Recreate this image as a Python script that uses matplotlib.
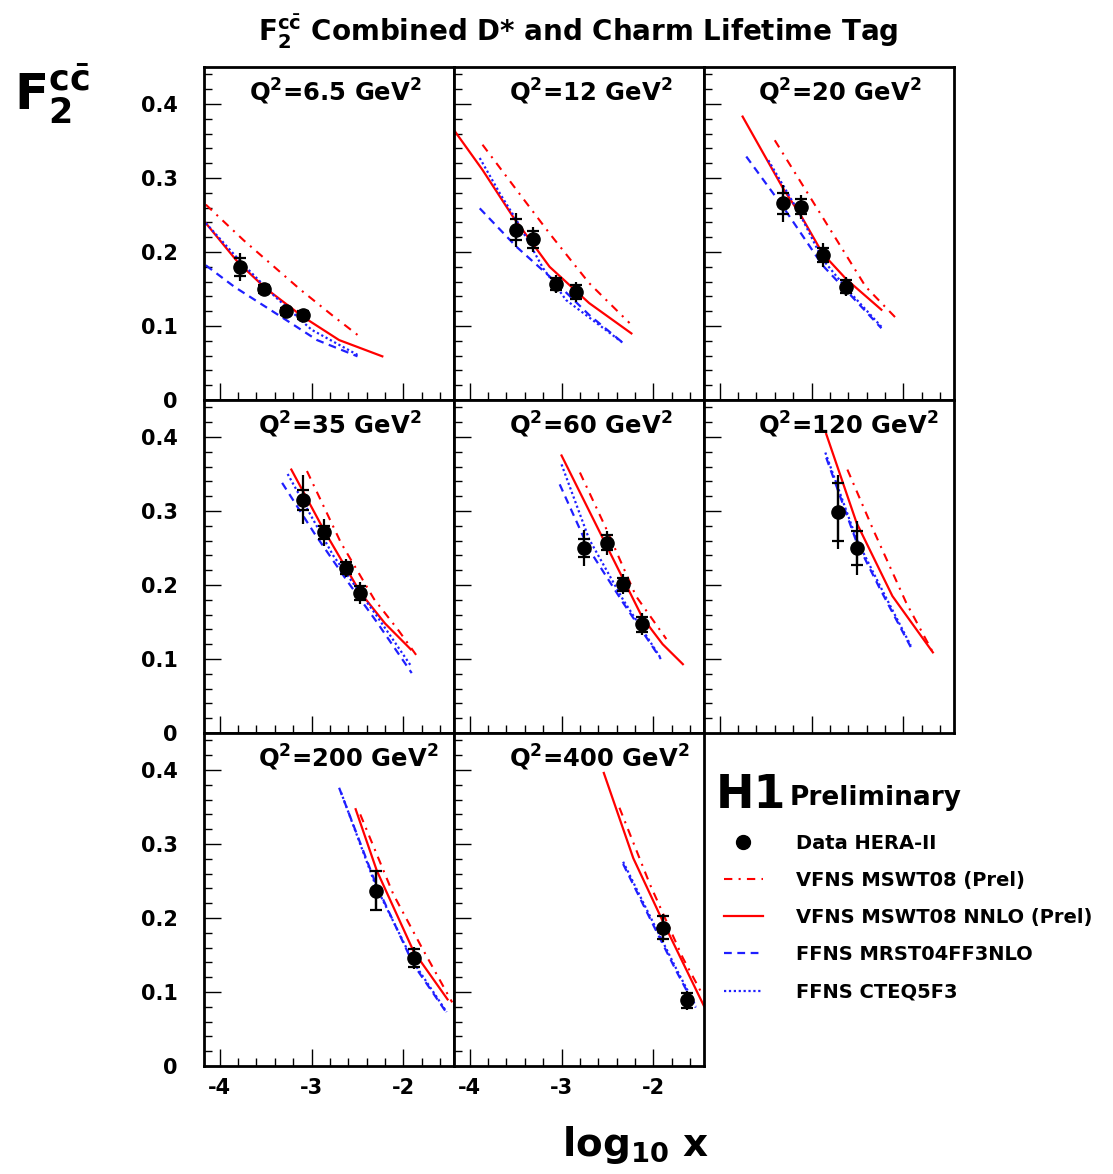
import matplotlib
matplotlib.use("Agg")
import matplotlib.pyplot as plt
from matplotlib.lines import Line2D

plt.rcParams['font.family'] = 'DejaVu Sans'
plt.rcParams['font.weight'] = 'bold'
plt.rcParams['mathtext.fontset'] = 'dejavusans'
plt.rcParams['mathtext.default'] = 'bf'

# Q^2 bins (GeV^2)
q2_bins = ['6.5', '12', '20', '35', '60', '120', '200', '400']

# H1 data: log10 x, F2cc, total error, stat error
data_x = [[-3.78, -3.52, -3.28, -3.09], [-3.50, -3.31, -3.06, -2.84],
          [-3.31, -3.11, -2.88, -2.62], [-3.09, -2.86, -2.62, -2.47],
          [-2.76, -2.51, -2.33, -2.12], [-2.71, -2.51],
          [-2.30, -1.89], [-1.90, -1.63]]
data_y = [[0.180, 0.150, 0.120, 0.115], [0.230, 0.217, 0.157, 0.146],
          [0.266, 0.261, 0.196, 0.153], [0.315, 0.271, 0.223, 0.189],
          [0.250, 0.257, 0.201, 0.147], [0.299, 0.250],
          [0.237, 0.146], [0.187, 0.089]]
data_tot = [[0.019, 0.008, 0.008, 0.007], [0.023, 0.017, 0.012, 0.0135],
            [0.025, 0.016, 0.016, 0.013], [0.033, 0.018, 0.012, 0.015],
            [0.024, 0.016, 0.0135, 0.015], [0.050, 0.037],
            [0.028, 0.015], [0.019, 0.013]]
data_stat = [[0.012, 0.005, 0.005, 0.005], [0.014, 0.011, 0.008, 0.009],
             [0.014, 0.010, 0.010, 0.009], [0.014, 0.009, 0.008, 0.009],
             [0.012, 0.010, 0.009, 0.010], [0.039, 0.023],
             [0.026, 0.012], [0.016, 0.010]]

# VFNS MSWT08 (Prel)
mswt_x = [[-4.15, -3.74, -3.12, -2.76, -2.50], [-3.86, -3.49, -3.13, -2.70, -2.26],
          [-3.40, -3.13, -2.77, -2.41, -2.06], [-3.05, -2.68, -2.32, -2.05, -1.83],
          [-2.80, -2.51, -2.19, -1.86], [-2.61, -2.33, -1.97, -1.68],
          [-2.47, -2.11, -1.80, -1.47], [-2.37, -2.04, -1.68, -1.46]]
mswt_y = [[0.264, 0.216, 0.149, 0.113, 0.088], [0.345, 0.284, 0.225, 0.158, 0.104],
          [0.351, 0.297, 0.225, 0.153, 0.108], [0.354, 0.257, 0.181, 0.138, 0.100],
          [0.352, 0.275, 0.185, 0.127], [0.356, 0.275, 0.176, 0.109],
          [0.340, 0.232, 0.160, 0.086], [0.349, 0.246, 0.146, 0.095]]

# VFNS MSWT08 NNLO (Prel)
nnlo_x = [[-4.15, -3.80, -3.50, -3.10, -2.70, -2.23], [-4.16, -3.86, -3.53, -3.13, -2.70, -2.24],
          [-3.75, -3.31, -3.11, -2.88, -2.62, -2.24], [-3.22, -2.86, -2.47, -2.20, -1.92],
          [-3.00, -2.51, -2.12, -1.90, -1.68], [-2.84, -2.51, -2.12, -1.68],
          [-2.52, -2.29, -1.89, -1.52], [-2.54, -2.22, -1.90, -1.45]]
nnlo_y = [[0.239, 0.186, 0.151, 0.113, 0.081, 0.059], [0.363, 0.311, 0.248, 0.180, 0.131, 0.090],
          [0.383, 0.286, 0.248, 0.198, 0.163, 0.122], [0.356, 0.273, 0.190, 0.148, 0.113],
          [0.375, 0.253, 0.156, 0.120, 0.093], [0.404, 0.284, 0.185, 0.109],
          [0.347, 0.264, 0.155, 0.090], [0.396, 0.281, 0.196, 0.081]]

# FFNS MRST04FF3NLO
mrst_x = [[-4.15, -3.84, -3.30, -2.94, -2.50], [-3.89, -3.49, -3.13, -2.70, -2.33],
          [-3.71, -3.31, -2.88, -2.60, -2.24], [-3.32, -2.97, -2.61, -2.29, -1.91],
          [-3.02, -2.70, -2.33, -1.92], [-2.84, -2.51, -2.26, -1.92],
          [-2.70, -2.30, -1.89, -1.52], [-2.33, -2.04, -1.75, -1.54]]
mrst_y = [[0.182, 0.153, 0.110, 0.081, 0.059], [0.259, 0.207, 0.167, 0.115, 0.077],
          [0.329, 0.261, 0.182, 0.145, 0.097], [0.338, 0.270, 0.205, 0.150, 0.081],
          [0.336, 0.248, 0.176, 0.100], [0.372, 0.258, 0.196, 0.116],
          [0.376, 0.246, 0.137, 0.070], [0.273, 0.200, 0.128, 0.079]]

# FFNS CTEQ5F3
cteq_x = [[-4.15, -3.75, -3.40, -3.00, -2.50], [-3.89, -3.67, -3.49, -3.20, -2.95, -2.33],
          [-3.47, -3.13, -2.88, -2.60, -2.24], [-3.26, -2.76, -2.30, -1.92],
          [-3.00, -2.70, -2.33, -1.92], [-2.85, -2.51, -2.26, -1.92],
          [-2.68, -2.30, -1.89, -1.53], [-2.33, -2.04, -1.75, -1.54]]
cteq_y = [[0.239, 0.184, 0.140, 0.095, 0.061], [0.327, 0.279, 0.243, 0.178, 0.135, 0.077],
          [0.324, 0.252, 0.190, 0.148, 0.099], [0.350, 0.239, 0.160, 0.091],
          [0.363, 0.262, 0.180, 0.101], [0.379, 0.262, 0.200, 0.118],
          [0.370, 0.243, 0.140, 0.073], [0.276, 0.203, 0.131, 0.081]]

W, H = 1113, 1174
red = '#ff0000'
blue = '#1f1fff'
mswt_ls = (0, (4, 3, 1, 3))
mrst_ls = (0, (3.5, 2.5))
cteq_ls = (0, (1, 1.2))

fig = plt.figure(figsize=(W / 100, H / 100), dpi=100)


def px_axes(x0, y0, w, h):  # pixel box -> figure fraction
    return [x0 / W, 1 - (y0 + h) / H, w / W, h / H]


col_left = [204, 454, 704]
row_top = [67, 400, 733]
title_x = [0.18, 0.22, 0.215, 0.215, 0.22, 0.215, 0.215, 0.22]

for i in range(8):
    r, c = divmod(i, 3)
    ax = fig.add_axes(px_axes(col_left[c], row_top[r], 250, 333))
    ax.set_xlim(-4.17, -1.45)
    ax.set_ylim(0, 0.45)

    ax.plot(mswt_x[i], mswt_y[i], color=red, lw=1.5, ls=mswt_ls)
    ax.plot(nnlo_x[i], nnlo_y[i], color=red, lw=1.6, ls='-')
    ax.plot(mrst_x[i], mrst_y[i], color=blue, lw=1.6, ls=mrst_ls)
    ax.plot(cteq_x[i], cteq_y[i], color=blue, lw=1.6, ls=cteq_ls)

    # total error (line) and stat error (caps)
    ax.errorbar(data_x[i], data_y[i], yerr=data_tot[i], fmt='none',
                ecolor='k', elinewidth=1.6, capsize=0, zorder=5)
    ax.errorbar(data_x[i], data_y[i], yerr=data_stat[i], fmt='o', color='k',
                ms=9.5, ecolor='k', elinewidth=1.6, capsize=4.5, capthick=1.6, zorder=6)

    ax.text(title_x[i], 0.898, r'$Q^{2}$=' + q2_bins[i] + r' GeV$^{2}$', transform=ax.transAxes,
            fontsize=17.5, fontweight='bold', ha='left', va='baseline')

    ax.set_xticks([-4, -3, -2])
    ax.set_xticks([-4.0 + 0.2 * k for k in range(-1, 14) if -4.17 < -4.0 + 0.2 * k < -1.45], minor=True)
    ax.set_yticks([0, 0.1, 0.2, 0.3, 0.4])
    ax.set_yticks([0.02 * k for k in range(23)], minor=True)
    ax.tick_params(which='both', direction='in', top=False, right=False, width=1)
    ax.tick_params(which='major', length=12)
    ax.tick_params(which='minor', length=6)
    ax.tick_params(axis='y', pad=19, labelsize=15)
    ax.tick_params(axis='x', pad=9, labelsize=15)
    ax.set_yticklabels(['0', '0.1', '0.2', '0.3', '0.4'] if c == 0 else [])
    ax.set_xticklabels(['-4', '-3', '-2'] if r == 2 else [])
    for lab in ax.get_xticklabels() + ax.get_yticklabels():
        lab.set_fontweight('bold')
    for sp in ax.spines.values():
        sp.set_linewidth(2)

fig.text(578 / W, 1 - 32 / H, r'$F_2^{c\bar{c}}$ Combined D* and Charm Lifetime Tag',
         fontsize=20, fontweight='bold', ha='center', va='center')
fig.text(14 / W, 1 - 62 / H, r'$F_2^{c\bar{c}}$', fontsize=36, fontweight='bold',
         ha='left', va='top')
fig.text(636 / W, 1 - 1145 / H, r'log$_{10}$ x', fontsize=28, fontweight='bold',
         ha='center', va='center')

fig.text(716 / W, 1 - 795 / H, 'H1', fontsize=33, fontweight='bold', ha='left', va='center')
fig.text(790 / W, 1 - 798 / H, 'Preliminary', fontsize=19, fontweight='bold', ha='left', va='center')

handles = [Line2D([], [], marker='o', ls='none', color='k', ms=10),
           Line2D([], [], color=red, lw=1.5, ls=mswt_ls),
           Line2D([], [], color=red, lw=1.6, ls='-'),
           Line2D([], [], color=blue, lw=1.6, ls=mrst_ls),
           Line2D([], [], color=blue, lw=1.6, ls=cteq_ls)]
labels = ['Data HERA-II', 'VFNS MSWT08 (Prel)', 'VFNS MSWT08 NNLO (Prel)',
          'FFNS MRST04FF3NLO', 'FFNS CTEQ5F3']
fig.legend(handles, labels, loc='upper left', bbox_to_anchor=(724 / W, 1 - 834 / H),
           frameon=False, borderpad=0, borderaxespad=0, handlelength=2.0,
           handletextpad=1.7, labelspacing=0.93, prop={'weight': 'bold', 'size': 14})

fig.savefig('out.png', dpi=100)
